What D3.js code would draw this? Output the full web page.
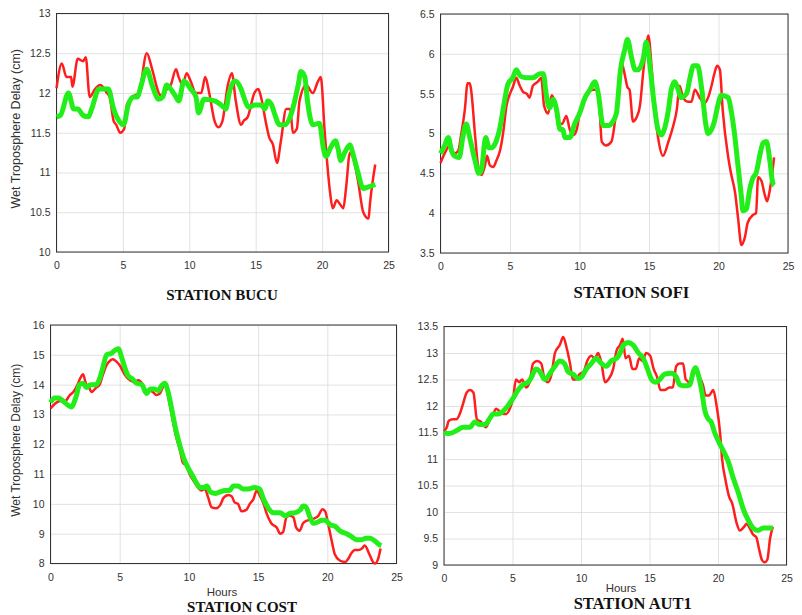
<!DOCTYPE html>
<html>
<head>
<meta charset="utf-8">
<script src="https://cdn.jsdelivr.net/npm/d3@7"></script>
<style>
  body { margin: 0; background: #fff; }
  svg { display: block; }
</style>
</head>
<body>
<script>
// station names
const stations = ['BUCU', 'SOFI', 'COST', 'AUT1'];
const xTicks = [0, 5, 10, 15, 20, 25];

// [hour, cm], red = first series, green = second
const bucuRed = [[0,12.06],[0.4,12.37],[0.75,12.2],[1.1,12.2],[1.2,12.08],[1.6,12.43],[2.0,12.4],[2.2,12.45],[2.5,11.95],[2.9,12.05],[3.3,12.1],[3.8,12.0],[4.0,11.95],[4.3,11.65],[4.5,11.6],[4.8,11.5],[5.1,11.55],[5.3,11.85],[5.7,11.95],[6.2,12.0],[6.8,12.5],[7.2,12.3],[7.7,12.0],[8.0,11.95],[8.3,12.05],[8.6,12.1],[9.0,12.3],[9.2,12.2],[9.5,12.1],[9.8,12.25],[10.1,12.15],[10.5,12.0],[10.9,12.0],[11.2,12.2],[11.5,12.0],[11.9,11.65],[12.2,11.57],[12.5,11.65],[12.9,12.1],[13.2,12.25],[13.5,11.9],[13.9,11.6],[14.1,11.65],[14.4,11.7],[14.9,12.0],[15.2,12.05],[15.4,11.95],[15.8,11.6],[16.0,11.45],[16.3,11.35],[16.6,11.12],[16.9,11.4],[17.3,11.8],[17.6,11.8],[17.8,11.5],[18.1,11.55],[18.3,11.9],[18.8,12.1],[19.3,12.0],[19.7,12.15],[19.9,12.2],[20.2,11.5],[20.6,10.75],[20.8,10.55],[21.1,10.65],[21.35,10.6],[21.6,10.55],[21.8,10.8],[22.1,11.25],[22.3,11.2],[22.7,10.9],[23.1,10.5],[23.5,10.42],[23.6,10.6],[24.0,11.1]];
const bucuGreen = [[0,11.7],[0.3,11.72],[0.9,12.0],[1.3,11.8],[1.6,11.8],[2.0,11.72],[2.4,11.7],[2.65,11.8],[3.2,12.05],[3.9,12.05],[4.3,11.8],[4.7,11.65],[5.05,11.6],[5.4,11.85],[5.8,11.95],[6.1,11.95],[6.3,12.05],[6.8,12.3],[7.2,12.1],[7.7,11.92],[8.0,11.95],[8.3,12.1],[8.6,12.05],[9.0,11.95],[9.2,11.9],[9.6,12.15],[10.1,12.05],[10.5,11.95],[10.7,11.75],[11.1,11.92],[11.9,11.9],[12.4,11.85],[12.75,11.8],[13.0,12.0],[13.4,12.15],[13.9,12.05],[14.1,11.95],[14.5,11.82],[14.9,11.85],[15.4,11.85],[15.7,11.8],[15.9,11.9],[16.2,11.85],[16.4,11.75],[16.8,11.6],[17.2,11.6],[17.7,11.75],[18.2,12.1],[18.4,12.27],[18.7,12.2],[18.9,11.9],[19.3,11.6],[19.8,11.62],[20.1,11.3],[20.3,11.2],[20.6,11.3],[21.0,11.4],[21.2,11.3],[21.4,11.15],[21.7,11.25],[22.1,11.35],[22.3,11.25],[22.7,11.0],[23.1,10.8],[23.5,10.82],[24.0,10.85]];

const sofiRed = [[0,4.63],[0.3,4.75],[0.67,4.85],[1.0,4.75],[1.27,4.78],[1.5,5.0],[1.75,5.3],[1.95,5.63],[2.1,5.63],[2.2,5.55],[2.5,4.95],[2.7,4.6],[2.95,4.48],[3.2,4.6],[3.35,4.72],[3.55,4.6],[3.8,4.58],[4.0,4.65],[4.3,4.8],[4.5,5.0],[4.75,5.35],[5.0,5.5],[5.2,5.58],[5.45,5.7],[5.7,5.6],[5.95,5.52],[6.2,5.5],[6.4,5.45],[6.65,5.6],[7.0,5.65],[7.25,5.7],[7.45,5.35],[7.75,5.25],[8.0,5.48],[8.2,5.4],[8.45,5.15],[8.75,5.12],[9.05,5.22],[9.3,5.05],[9.55,4.98],[9.8,5.05],[10.0,5.25],[10.4,5.45],[10.6,5.52],[11.0,5.55],[11.35,5.55],[11.6,4.9],[11.9,4.85],[12.3,4.9],[12.55,5.15],[12.8,5.5],[13.0,5.9],[13.3,5.7],[13.45,5.58],[13.6,5.55],[13.85,5.15],[14.1,5.2],[14.35,5.35],[14.6,5.8],[14.8,6.1],[14.95,6.23],[15.2,5.8],[15.4,5.3],[15.65,4.95],[16.0,4.72],[16.4,4.9],[16.75,5.1],[17.0,5.3],[17.2,5.6],[17.45,5.45],[17.8,5.4],[18.05,5.4],[18.3,5.55],[18.65,5.45],[19.0,5.38],[19.25,5.45],[19.5,5.6],[19.7,5.75],[19.9,5.85],[20.1,5.8],[20.3,5.3],[20.7,4.7],[20.9,4.5],[21.2,4.25],[21.4,3.95],[21.65,3.6],[21.9,3.7],[22.1,3.88],[22.5,3.98],[22.7,4.0],[22.85,4.45],[23.1,4.4],[23.3,4.25],[23.5,4.15],[23.7,4.3],[24.0,4.7]];
const sofiGreen = [[0,4.75],[0.3,4.85],[0.55,4.95],[0.8,4.78],[1.0,4.72],[1.35,4.7],[1.6,4.95],[1.85,5.12],[2.1,4.95],[2.5,4.65],[2.75,4.5],[2.95,4.55],[3.25,4.95],[3.5,4.82],[3.65,4.82],[4.0,4.9],[4.25,5.05],[4.6,5.4],[4.85,5.62],[5.2,5.7],[5.45,5.8],[5.75,5.72],[6.2,5.7],[6.65,5.7],[7.15,5.75],[7.4,5.75],[7.6,5.5],[7.85,5.32],[8.1,5.43],[8.35,5.3],[8.6,5.05],[8.8,5.05],[8.95,4.95],[9.3,4.95],[9.65,5.12],[10.0,5.25],[10.4,5.45],[10.75,5.55],[11.1,5.65],[11.35,5.5],[11.7,5.1],[12.1,5.1],[12.4,5.15],[12.65,5.25],[12.95,5.8],[13.25,6.05],[13.45,6.18],[13.75,5.95],[14.0,5.8],[14.2,5.8],[14.6,5.95],[14.8,6.15],[15.1,5.8],[15.35,5.4],[15.65,5.05],[15.9,4.98],[16.1,5.05],[16.4,5.3],[16.6,5.55],[16.85,5.65],[17.1,5.55],[17.3,5.45],[17.7,5.5],[17.95,5.7],[18.2,5.85],[18.5,5.85],[18.8,5.55],[19.1,5.1],[19.25,5.0],[19.5,5.05],[19.7,5.15],[19.95,5.35],[20.2,5.48],[20.7,5.45],[20.9,5.3],[21.15,5.0],[21.4,4.6],[21.65,4.2],[21.75,4.03],[22.0,4.05],[22.25,4.3],[22.5,4.45],[22.7,4.5],[23.0,4.75],[23.2,4.88],[23.45,4.9],[23.7,4.65],[23.9,4.38],[24.0,4.35]];

const costRed = [[0,13.2],[0.3,13.35],[0.7,13.45],[1.05,13.45],[1.4,13.65],[1.65,13.75],[1.9,13.95],[2.25,14.3],[2.35,14.35],[2.55,14.05],[2.8,13.9],[2.95,13.75],[3.3,13.9],[3.55,14.0],[3.8,14.35],[4.05,14.65],[4.3,14.8],[4.5,14.85],[4.75,14.78],[5.0,14.65],[5.35,14.35],[5.6,14.2],[6.0,14.1],[6.35,14.15],[6.6,14.05],[6.95,13.75],[7.2,13.8],[7.4,13.75],[7.65,13.65],[7.9,13.7],[8.15,13.95],[8.3,14.05],[8.5,13.6],[8.75,13.0],[9.05,12.3],[9.35,11.8],[9.55,11.4],[9.85,11.25],[10.05,11.0],[10.3,10.8],[10.65,10.55],[10.9,10.45],[11.15,10.5],[11.4,10.2],[11.65,9.88],[11.95,9.85],[12.25,9.95],[12.5,10.2],[12.85,10.3],[13.1,10.25],[13.3,10.05],[13.55,10.0],[13.8,9.75],[14.15,9.8],[14.4,10.0],[14.65,10.15],[14.9,10.45],[15.1,10.3],[15.4,10.0],[15.6,9.7],[15.95,9.35],[16.35,9.2],[16.6,9.0],[16.8,9.05],[17.05,9.55],[17.3,9.6],[17.55,9.55],[17.75,9.2],[18.0,9.1],[18.25,9.35],[18.6,9.45],[19.0,9.5],[19.35,9.6],[19.65,9.82],[19.85,9.75],[20.05,9.35],[20.3,8.8],[20.55,8.3],[20.9,8.1],[21.3,8.05],[21.5,8.15],[21.75,8.35],[22.0,8.45],[22.25,8.45],[22.5,8.5],[22.7,8.6],[23.05,8.3],[23.3,8.05],[23.45,8.0],[23.7,8.2],[23.85,8.5]];
const costGreen = [[0,13.4],[0.3,13.55],[0.6,13.55],[0.9,13.45],[1.3,13.3],[1.5,13.25],[1.85,13.6],[2.1,14.0],[2.35,14.05],[2.6,13.9],[2.9,14.0],[3.3,14.0],[3.55,14.2],[3.8,14.6],[4.05,15.0],[4.4,15.05],[4.65,15.15],[4.9,15.2],[5.15,14.9],[5.35,14.6],[5.6,14.3],[5.9,14.2],[6.2,14.05],[6.6,14.0],[6.95,13.7],[7.2,13.85],[7.5,13.85],[7.8,13.8],[8.0,13.95],[8.25,14.05],[8.5,13.75],[8.75,13.2],[9.05,12.5],[9.35,11.95],[9.65,11.5],[9.95,11.2],[10.2,11.0],[10.55,10.7],[10.8,10.55],[11.1,10.55],[11.3,10.6],[11.55,10.4],[11.95,10.35],[12.25,10.4],[12.6,10.45],[12.95,10.45],[13.2,10.6],[13.55,10.6],[13.9,10.5],[14.3,10.5],[14.75,10.55],[15.1,10.5],[15.4,10.15],[15.75,9.85],[16.1,9.7],[16.6,9.7],[16.95,9.6],[17.3,9.68],[17.65,9.7],[18.05,9.8],[18.25,9.93],[18.45,9.9],[18.75,9.55],[19.0,9.35],[19.35,9.4],[19.6,9.45],[19.85,9.45],[20.2,9.3],[20.55,9.25],[20.9,9.1],[21.4,9.0],[21.75,8.9],[22.1,8.8],[22.5,8.8],[22.8,8.85],[23.1,8.85],[23.45,8.75],[23.8,8.62],[23.9,8.6]];

const aut1Red = [[0,11.52],[0.2,11.6],[0.35,11.72],[0.65,11.75],[0.9,11.75],[1.15,11.85],[1.4,12.05],[1.65,12.25],[1.9,12.3],[2.15,12.25],[2.4,11.75],[2.7,11.7],[3.05,11.6],[3.35,11.75],[3.6,11.85],[3.8,11.95],[4.05,11.9],[4.3,11.85],[4.55,11.85],[4.8,11.95],[5.05,12.15],[5.25,12.5],[5.5,12.45],[5.7,12.5],[6.0,12.35],[6.25,12.45],[6.5,12.8],[6.8,12.85],[7.1,12.8],[7.35,12.5],[7.6,12.45],[7.85,12.6],[8.1,13.0],[8.45,13.15],[8.7,13.3],[8.95,13.1],[9.2,12.8],[9.4,12.5],[9.65,12.5],[9.9,12.6],[10.2,12.65],[10.45,12.85],[10.75,12.95],[11.0,12.9],[11.25,13.0],[11.5,12.8],[11.75,12.45],[12.0,12.5],[12.35,12.7],[12.6,13.05],[12.85,13.15],[13.05,13.27],[13.25,12.9],[13.5,12.95],[13.75,12.7],[14.0,12.7],[14.25,12.9],[14.5,12.85],[14.75,13.0],[15.05,12.95],[15.3,12.7],[15.55,12.55],[15.8,12.3],[16.1,12.3],[16.45,12.35],[16.7,12.35],[16.95,12.75],[17.2,12.8],[17.45,12.8],[17.65,12.5],[17.95,12.45],[18.2,12.7],[18.45,12.65],[18.65,12.55],[18.9,12.4],[19.1,12.2],[19.35,12.2],[19.65,12.3],[19.9,12.0],[20.15,11.5],[20.3,11.0],[20.55,10.6],[20.8,10.3],[21.05,10.15],[21.35,9.8],[21.6,9.65],[21.9,9.72],[22.1,9.78],[22.3,9.7],[22.55,9.58],[22.8,9.52],[23.0,9.3],[23.2,9.1],[23.4,9.05],[23.6,9.1],[23.8,9.5],[24.0,9.72]];
const aut1Green = [[0,11.5],[0.3,11.48],[0.65,11.5],[1.0,11.55],[1.4,11.6],[1.9,11.6],[2.25,11.7],[2.6,11.65],[3.0,11.65],[3.3,11.75],[3.6,11.85],[3.95,11.85],[4.3,11.9],[4.65,12.0],[5.05,12.15],[5.4,12.3],[5.75,12.4],[6.15,12.45],[6.4,12.55],[6.7,12.7],[7.0,12.65],[7.35,12.5],[7.7,12.6],[8.1,12.75],[8.45,12.85],[8.8,12.8],[9.05,12.65],[9.4,12.6],[9.8,12.52],[10.05,12.55],[10.4,12.7],[10.75,12.8],[11.1,12.9],[11.5,12.8],[11.85,12.75],[12.2,12.85],[12.6,12.9],[12.85,13.0],[13.1,13.15],[13.45,13.2],[13.8,13.15],[14.2,13.0],[14.55,12.9],[14.85,12.7],[15.15,12.5],[15.4,12.45],[15.75,12.5],[16.1,12.6],[16.6,12.62],[16.95,12.55],[17.2,12.4],[17.55,12.38],[17.95,12.4],[18.2,12.65],[18.35,12.72],[18.55,12.6],[18.8,12.3],[19.05,11.9],[19.3,11.75],[19.5,11.7],[19.75,11.5],[20.1,11.3],[20.4,11.15],[20.75,10.95],[21.1,10.65],[21.5,10.35],[21.85,10.05],[22.2,9.85],[22.55,9.7],[22.9,9.65],[23.3,9.7],[23.8,9.7],[24.0,9.7]];

const yTicksBucu = [10, 10.5, 11, 11.5, 12, 12.5, 13];
const yTicksSofi = [3.5, 4, 4.5, 5, 5.5, 6, 6.5];
const yTicksCost = [8, 9, 10, 11, 12, 13, 14, 15, 16];
const yTicksAut1 = [9, 9.5, 10, 10.5, 11, 11.5, 12, 12.5, 13, 13.5];

const W = 802, H = 615;
const sans = 'Liberation Sans, Arial, sans-serif';
const fmt = d3.format('~g');

const svg = d3.select('body').append('svg')
  .attr('width', W)
  .attr('height', H);

// one entry per panel: frame in page pixels + where the labels sit
const panels = [
  {name: stations[0], red: bucuRed, green: bucuGreen, ticks: yTicksBucu,
   x0: 56.5, x1: 388.5, y0: 13.5, y1: 252, ylabel: 12.5, hours: null,
   titleX: 222, titleY: 300, titleSize: 15},
  {name: stations[1], red: sofiRed, green: sofiGreen, ticks: yTicksSofi,
   x0: 440.5, x1: 788, y0: 14, y1: 253, ylabel: 0, hours: null,
   titleX: 631.5, titleY: 298, titleSize: 16.7},
  {name: stations[2], red: costRed, green: costGreen, ticks: yTicksCost,
   x0: 50.5, x1: 396.5, y0: 325, y1: 563.5, ylabel: 12, hours: [222, 596],
   titleX: 242, titleY: 612, titleSize: 15},
  {name: stations[3], red: aut1Red, green: aut1Green, ticks: yTicksAut1,
   x0: 444, x1: 786.5, y0: 326.5, y1: 565, ylabel: 0, hours: [621, 592],
   titleX: 632.7, titleY: 608.5, titleSize: 16.5}
];

panels.forEach(function (p) {
  const x = d3.scaleLinear().domain([0, 25]).range([p.x0, p.x1]);
  const y = d3.scaleLinear()
    .domain([p.ticks[0], p.ticks[p.ticks.length - 1]])
    .range([p.y1, p.y0]);

  const g = svg.append('g').attr('class', 'panel-' + p.name);

  // grid
  g.append('g')
    .attr('transform', 'translate(0,' + p.y1 + ')')
    .call(d3.axisBottom(x).tickValues(xTicks).tickSize(-(p.y1 - p.y0)).tickFormat(''))
    .call(a => a.select('.domain').remove())
    .call(a => a.selectAll('line').attr('stroke', '#dadada').attr('stroke-width', 0.8));
  g.append('g')
    .attr('transform', 'translate(' + p.x0 + ',0)')
    .call(d3.axisLeft(y).tickValues(p.ticks).tickSize(-(p.x1 - p.x0)).tickFormat(''))
    .call(a => a.select('.domain').remove())
    .call(a => a.selectAll('line').attr('stroke', '#dadada').attr('stroke-width', 0.8));

  // tick labels
  g.append('g')
    .attr('transform', 'translate(0,' + p.y1 + ')')
    .call(d3.axisBottom(x).tickValues(xTicks).tickSize(0).tickPadding(10).tickFormat(fmt))
    .call(a => a.select('.domain').remove())
    .call(a => a.selectAll('text')
      .attr('font-family', sans).attr('font-size', 10.5).attr('fill', '#333'));
  g.append('g')
    .attr('transform', 'translate(' + p.x0 + ',0)')
    .call(d3.axisLeft(y).tickValues(p.ticks).tickSize(0).tickPadding(6).tickFormat(fmt))
    .call(a => a.select('.domain').remove())
    .call(a => a.selectAll('text')
      .attr('font-family', sans).attr('font-size', 10.5).attr('fill', '#333'));

  // frame
  g.append('rect')
    .attr('x', p.x0).attr('y', p.y0)
    .attr('width', p.x1 - p.x0).attr('height', p.y1 - p.y0)
    .attr('fill', 'none').attr('stroke', '#333').attr('stroke-width', 1);

  const line = d3.line()
    .x(d => x(d[0]))
    .y(d => y(d[1]))
    .curve(d3.curveMonotoneX);

  g.append('path')
    .attr('fill', 'none')
    .attr('stroke', '#ff1e1e')
    .attr('stroke-width', 2.5)
    .attr('stroke-linejoin', 'round')
    .attr('d', line(p.red));
  g.append('path')
    .attr('fill', 'none')
    .attr('stroke', '#22ee1a')
    .attr('stroke-width', 5)
    .attr('stroke-linejoin', 'round')
    .attr('d', line(p.green));

  if (p.ylabel) {
    g.append('text')
      .attr('transform', 'translate(20,' + ((p.y0 + p.y1) / 2 - 4) + ') rotate(-90)')
      .attr('text-anchor', 'middle')
      .attr('font-family', sans)
      .attr('font-size', p.ylabel)
      .attr('fill', '#333')
      .text('Wet Troposphere Delay (cm)');
  }
  if (p.hours) {
    g.append('text')
      .attr('x', p.hours[0])
      .attr('y', p.hours[1])
      .attr('text-anchor', 'middle')
      .attr('font-family', sans)
      .attr('font-size', 11.5)
      .attr('fill', '#333')
      .text('Hours');
  }
  g.append('text')
    .attr('x', p.titleX)
    .attr('y', p.titleY)
    .attr('text-anchor', 'middle')
    .attr('font-family', 'Liberation Serif, Times New Roman, serif')
    .attr('font-weight', 'bold')
    .attr('font-size', p.titleSize)
    .attr('fill', '#111')
    .text('STATION ' + p.name);
});
</script>
</body>
</html>
